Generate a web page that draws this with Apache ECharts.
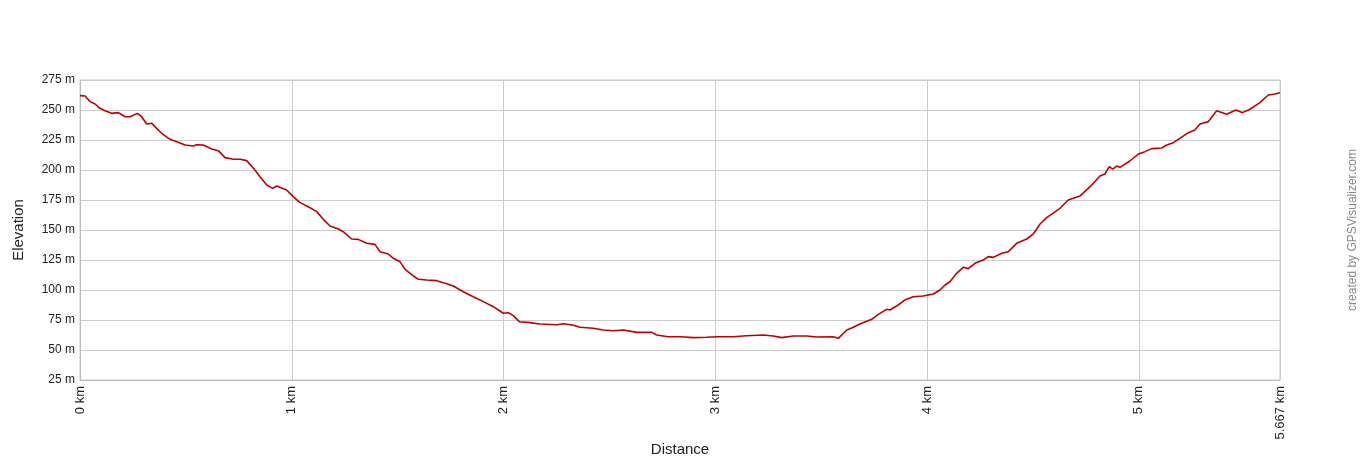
<!DOCTYPE html>
<html>
<head>
    <meta charset="UTF-8">
    <title>Elevation profile</title>
    <script src="https://cdn.jsdelivr.net/npm/echarts@6/dist/echarts.min.js"></script>
    <style type="text/css">
    * { margin: 0; padding: 0; }
    body { background-color: #ffffff; }
    #chart { width: 1360px; height: 460px; }
    </style>
</head>
<body>
<div id="chart"></div>
<script>
    // distance along the track, km
    var distKm = [
        0.000, 0.024, 0.047, 0.071, 0.094, 0.118, 0.150, 0.181, 0.213, 0.236,
        0.271, 0.291, 0.315, 0.339, 0.362, 0.386, 0.425, 0.457, 0.496, 0.535,
        0.551, 0.582, 0.622, 0.653, 0.685, 0.724, 0.756, 0.787, 0.795, 0.826,
        0.850, 0.882, 0.910, 0.929, 0.976, 1.007, 1.039, 1.078, 1.118, 1.149,
        1.181, 1.220, 1.243, 1.283, 1.314, 1.354, 1.393, 1.417, 1.456, 1.480,
        1.511, 1.535, 1.574, 1.598, 1.637, 1.684, 1.724, 1.763, 1.810, 1.857,
        1.905, 1.952, 1.999, 2.023, 2.046, 2.075, 2.125, 2.172, 2.251, 2.282,
        2.330, 2.361, 2.424, 2.471, 2.518, 2.566, 2.629, 2.700, 2.723, 2.778,
        2.833, 2.896, 2.959, 3.007, 3.085, 3.148, 3.227, 3.274, 3.314, 3.368,
        3.432, 3.479, 3.557, 3.581, 3.621, 3.652, 3.683, 3.739, 3.770, 3.809,
        3.825, 3.864, 3.896, 3.935, 3.982, 4.030, 4.061, 4.085, 4.108, 4.140,
        4.171, 4.195, 4.226, 4.266, 4.289, 4.313, 4.353, 4.384, 4.423, 4.471,
        4.502, 4.534, 4.565, 4.628, 4.667, 4.722, 4.770, 4.817, 4.840, 4.861,
        4.877, 4.896, 4.911, 4.958, 4.998, 5.029, 5.061, 5.108, 5.132, 5.163,
        5.194, 5.234, 5.265, 5.289, 5.328, 5.368, 5.415, 5.459, 5.490, 5.525,
        5.572, 5.612, 5.643, 5.667
    ];
    // elevation, m
    var elevM = [
        262.0, 261.7, 257.0, 255.0, 251.4, 249.4, 247.2, 247.8, 244.4, 244.4,
        247.2, 244.4, 238.3, 238.9, 234.7, 230.6, 225.6, 223.6, 220.8, 220.0,
        221.1, 220.8, 217.5, 216.1, 210.3, 208.9, 208.9, 207.8, 208.9, 200.0,
        194.4, 187.5, 184.7, 186.7, 183.3, 177.8, 172.8, 169.4, 165.3, 158.9,
        153.3, 150.8, 148.6, 142.5, 142.2, 138.9, 138.0, 131.9, 130.0, 126.4,
        123.6, 117.2, 111.7, 108.9, 108.3, 107.8, 105.6, 103.3, 98.6, 94.4,
        90.3, 86.1, 80.6, 81.1, 78.6, 73.6, 72.8, 71.7, 71.1, 71.9,
        70.6, 68.9, 68.1, 66.7, 66.1, 66.7, 64.7, 64.7, 62.5, 61.1,
        61.1, 60.3, 60.6, 61.1, 61.1, 61.9, 62.5, 61.7, 60.3, 61.7,
        61.7, 60.8, 61.1, 59.7, 66.7, 68.9, 71.7, 75.6, 79.7, 83.9,
        83.3, 87.5, 91.7, 94.4, 95.0, 96.7, 100.0, 104.2, 106.9, 113.9,
        118.9, 117.8, 122.2, 125.0, 127.8, 127.2, 130.6, 131.9, 138.9, 142.5,
        146.7, 155.0, 160.3, 168.1, 175.0, 178.3, 186.1, 195.0, 196.7, 202.8,
        200.8, 203.3, 202.2, 207.5, 213.3, 215.3, 217.8, 218.3, 220.8, 222.8,
        226.4, 231.1, 233.3, 238.3, 240.3, 249.4, 246.4, 250.0, 247.8, 250.6,
        256.1, 262.5, 263.3, 264.4
    ];
    var totalKm = 5.667;
    var yMin = 25, yMax = 275, yStep = 25;

    var pts = [];
    for (var i = 0; i < distKm.length; i++) {
        pts.push([distKm[i], elevM[i]]);
    }

    var chart = echarts.init(document.getElementById('chart'), null, {renderer: 'canvas'});
    chart.setOption({
        animation: false,
        backgroundColor: '#ffffff',
        textStyle: {fontFamily: 'Liberation Sans, Arial, sans-serif'},
        grid: {
            left: 80, right: 80, top: 80, bottom: 80,
            outerBoundsMode: 'none',
            show: true, borderColor: '#cccccc', borderWidth: 1
        },
        xAxis: {
            type: 'value',
            min: 0,
            max: totalKm,
            interval: 1,
            name: 'Distance',
            nameLocation: 'middle',
            nameGap: 62,
            nameMoveOverlap: false,
            nameTextStyle: {color: '#222', fontSize: 15},
            axisLine: {show: true, lineStyle: {color: '#bbbbbb'}},
            axisTick: {show: false},
            axisLabel: {
                rotate: 90,
                color: '#222',
                fontSize: 13,
                margin: 6,
                showMaxLabel: true,
                formatter: function (v) {
                    return (Math.round(v * 1000) / 1000) + ' km';
                }
            },
            splitLine: {show: true, lineStyle: {color: '#cccccc'}}
        },
        yAxis: {
            type: 'value',
            min: yMin,
            max: yMax,
            interval: yStep,
            name: 'Elevation',
            nameLocation: 'middle',
            nameGap: 54,
            nameTextStyle: {color: '#222', fontSize: 15},
            axisLine: {show: true, lineStyle: {color: '#bbbbbb'}},
            axisTick: {show: false},
            axisLabel: {color: '#222', fontSize: 12, margin: 5, formatter: '{value} m'},
            splitLine: {show: true, lineStyle: {color: '#cccccc'}}
        },
        graphic: [{
            type: 'text',
            left: 1347,
            top: 'middle',
            rotation: Math.PI / 2,
            style: {
                text: 'created by GPSVisualizer.com',
                fill: '#888888',
                font: '12px Liberation Sans, Arial, sans-serif'
            }
        }],
        series: [{
            type: 'line',
            data: pts,
            showSymbol: false,
            smooth: false,
            lineStyle: {color: '#c00000', width: 1.6}
        }]
    });
</script>
</body>
</html>
